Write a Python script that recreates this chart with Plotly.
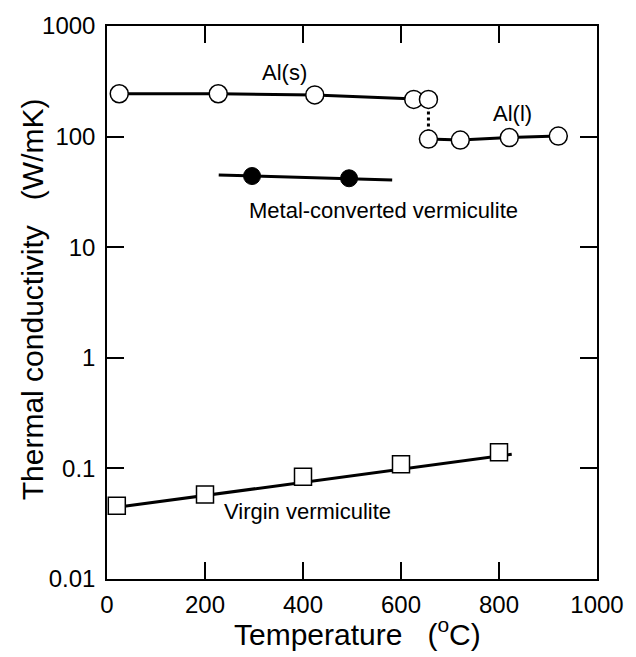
import math
import plotly.graph_objects as go

# Al solid
al_s_x = [25, 227, 424, 626, 656]
al_s_y = [244, 244, 238, 217, 217]
# Al liquid
al_l_x = [656, 721, 821, 921]
al_l_y = [95, 93, 98, 101]
# Melting transition (dotted)
melt_x = [656, 656]
melt_y = [217, 95]
# Metal-converted vermiculite
mcv_x = [296, 494]
mcv_y = [44, 42]
mcv_fit_x = [228, 582]
mcv_fit_y = [45, 40.5]
# Virgin vermiculite
vv_x = [20, 200, 400, 600, 800]
vv_y = [0.046, 0.058, 0.084, 0.109, 0.14]
vv_fit_x = [20, 826]
vv_fit_y = [0.0445, 0.134]

x_ticks = [0, 200, 400, 600, 800, 1000]
y_ticks = [0.01, 0.1, 1, 10, 100, 1000]
y_ticktext = ["0.01", "0.1", "1", "10", "100", "1000"]

# Labels (data coordinates)
lbl_text = ["Al(s)", "Al(l)", "Metal-converted vermiculite", "Virgin vermiculite"]
lbl_x = [362, 828, 564, 410]
lbl_y = [379, 163, 21.5, 0.0406]

FONT = "Liberation Sans, Arial, Helvetica, sans-serif"
fig = go.Figure()

fig.add_trace(go.Scatter(x=melt_x, y=melt_y, mode="lines",
                         line=dict(color="black", width=3, dash="dot")))
fig.add_trace(go.Scatter(x=mcv_fit_x, y=mcv_fit_y, mode="lines",
                         line=dict(color="black", width=3)))
fig.add_trace(go.Scatter(x=vv_fit_x, y=vv_fit_y, mode="lines",
                         line=dict(color="black", width=3)))
fig.add_trace(go.Scatter(x=al_s_x, y=al_s_y, mode="lines+markers",
                         line=dict(color="black", width=3),
                         marker=dict(symbol="circle", size=18, color="white",
                                     line=dict(color="black", width=1.5))))
fig.add_trace(go.Scatter(x=al_l_x, y=al_l_y, mode="lines+markers",
                         line=dict(color="black", width=3),
                         marker=dict(symbol="circle", size=18, color="white",
                                     line=dict(color="black", width=1.5))))
fig.add_trace(go.Scatter(x=mcv_x, y=mcv_y, mode="markers",
                         marker=dict(symbol="circle", size=17, color="black",
                                     line=dict(color="black", width=1))))
fig.add_trace(go.Scatter(x=vv_x, y=vv_y, mode="markers",
                         marker=dict(symbol="square", size=17, color="white",
                                     line=dict(color="black", width=1.5))))

for t, lx, ly in zip(lbl_text, lbl_x, lbl_y):
    # annotations on a log axis are positioned in log10 units
    fig.add_annotation(x=lx, y=math.log10(ly), xref="x", yref="y", yanchor="middle",
                       xanchor="center", text=t, showarrow=False,
                       font=dict(family=FONT, size=22, color="black"))

# Axis titles
fig.add_annotation(x=0.512, y=-0.095, xref="paper", yref="paper",
                   text="Temperature   (<sup>o</sup>C)", showarrow=False,
                   font=dict(family=FONT, size=30, color="black"),
                   xanchor="center", yanchor="middle")
fig.add_annotation(x=-0.152, y=0.505, xref="paper", yref="paper",
                   text="Thermal conductivity   (W/mK)", showarrow=False, textangle=-90,
                   font=dict(family=FONT, size=30, color="black"),
                   xanchor="center", yanchor="middle")

fig.update_layout(
    width=636, height=657,
    margin=dict(l=107, r=29, t=21, b=78),
    plot_bgcolor="white", paper_bgcolor="white",
    showlegend=False,
    font=dict(family=FONT, size=24, color="black"),
    xaxis=dict(range=[0, 1000], tickvals=x_ticks, ticks="inside", ticklen=17,
               tickwidth=1.5, tickcolor="black", showline=True, linecolor="black",
               linewidth=1.5, mirror="ticks", showgrid=False, zeroline=False,
               ticklabelstandoff=3, tickfont=dict(size=24, family=FONT)),
    yaxis=dict(type="log", range=[-2, 3], tickvals=y_ticks, ticktext=y_ticktext,
               ticks="inside", ticklen=17, tickwidth=1.5, tickcolor="black",
               showline=True, linecolor="black", linewidth=1.5, mirror="ticks",
               showgrid=False, zeroline=False, ticklabelstandoff=5,
               tickfont=dict(size=24, family=FONT)),
)

fig.write_html("out.html")
